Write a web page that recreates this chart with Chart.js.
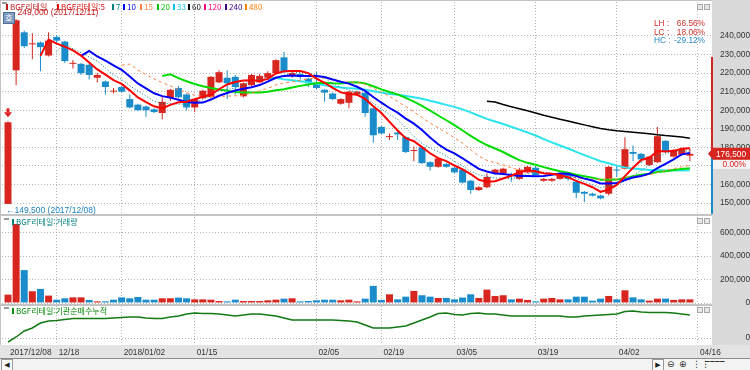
<!DOCTYPE html>
<html lang="ko">
<head>
<meta charset="UTF-8">
<title>BGF리테일 일봉</title>
<script src="https://cdn.jsdelivr.net/npm/chart.js"></script>
<style>
  body { margin: 0; }
  #wrap { position: relative; width: 750px; height: 370px; overflow: hidden; background: #c4c4c4; }
  .pane { position: absolute; left: 1px; width: 711px; background: #fff; }
  #pPrice { top: 1px; height: 213px; }
  #pVol { top: 216px; height: 88px; }
  #pInst { top: 306px; height: 39px; }
  #axisStrip { position: absolute; left: 712px; top: 0; width: 38px; height: 345px; background: #dadada; }
  #xBand { position: absolute; left: 0; top: 345px; width: 750px; height: 13px; background: #e4e4e4; }
  #scroll { position: absolute; left: 0; top: 358px; width: 750px; height: 12px; background: #f4f4f4;
            border-top: 1px solid #8c8c8c; box-sizing: border-box; font: 9px 'DejaVu Sans', sans-serif; }
  .sbtn { position: absolute; top: 0; width: 10px; height: 10px; border: 1px solid #9a9a9a; background: #fafafa;
          color: #222; font-size: 7px; line-height: 10px; text-align: center; }
  .tool { position: absolute; top: 0; font-size: 9px; line-height: 11px; color: #333; }
  .icons { position: absolute; width: 13px; height: 5px; }
  .icons i { position: absolute; top: 0; width: 4px; height: 4px; border: 1px solid #a8a8a8; background: #e8e8e8; }
  #hoBtn { position: absolute; left: 3px; top: 12px; width: 10px; height: 10px; background: #7f9cc0; border: 1px solid #4d6d94;
           color: #fff; font: 8px 'Noto Sans CJK KR', sans-serif; line-height: 10px; text-align: center; }
  canvas { position: absolute; left: 0; }
</style>
</head>
<body>
<div id="wrap">
  <div id="axisStrip"></div>
  <div class="pane" id="pPrice"></div>
  <div class="pane" id="pVol"></div>
  <div class="pane" id="pInst"></div>
  <div id="xBand"></div>
  <div id="scroll">
    <div class="sbtn" style="left:1px">◀</div>
    <div class="sbtn" style="left:652px">▶</div>
    <div class="tool" style="left:667px">⊖</div>
    <div class="tool" style="left:679px">⊕</div>
    <div class="tool" style="left:692px">⋮⋮</div>
    <div class="tool" style="left:705px;top:-3px">⎯⎯⎯⎯</div>
  </div>

  <canvas id="cPrice" width="750" height="216" style="top:0"></canvas>
  <canvas id="cVol" width="750" height="96" style="top:214px"></canvas>
  <canvas id="cInst" width="750" height="56" style="top:304px"></canvas>

  <div class="icons" style="left:697px;top:4px"><i style="left:0"></i><i style="left:7px"></i></div>
  <div class="icons" style="left:697px;top:218px"><i style="left:0"></i><i style="left:7px"></i></div>
  <div class="icons" style="left:697px;top:307px"><i style="left:0"></i><i style="left:7px"></i></div>
  <div id="hoBtn">호</div>
</div>

<script>
// ---- 데이터 (일봉, 2017/12/08 ~ 2018/04/13) ----
const DATES = [
  '2017/12/08','2017/12/11','2017/12/12','2017/12/13','2017/12/14','2017/12/15','2017/12/18','2017/12/19','2017/12/20','2017/12/21',
  '2017/12/22','2017/12/26','2017/12/27','2017/12/28','2018/01/02','2018/01/03','2018/01/04','2018/01/05','2018/01/08','2018/01/09',
  '2018/01/10','2018/01/11','2018/01/12','2018/01/15','2018/01/16','2018/01/17','2018/01/18','2018/01/19','2018/01/22','2018/01/23',
  '2018/01/24','2018/01/25','2018/01/26','2018/01/29','2018/01/30','2018/01/31','2018/02/01','2018/02/02','2018/02/05','2018/02/06',
  '2018/02/07','2018/02/08','2018/02/09','2018/02/12','2018/02/13','2018/02/14','2018/02/19','2018/02/20','2018/02/21','2018/02/22',
  '2018/02/23','2018/02/26','2018/02/27','2018/02/28','2018/03/02','2018/03/05','2018/03/06','2018/03/07','2018/03/08','2018/03/09',
  '2018/03/12','2018/03/13','2018/03/14','2018/03/15','2018/03/16','2018/03/19','2018/03/20','2018/03/21','2018/03/22','2018/03/23',
  '2018/03/26','2018/03/27','2018/03/28','2018/03/29','2018/03/30','2018/04/02','2018/04/03','2018/04/04','2018/04/05','2018/04/06',
  '2018/04/09','2018/04/10','2018/04/11','2018/04/12','2018/04/13'
];

const OPEN = [
  149500,221500,242000,235500,236500,229500,239500,237000,225000,225000,
  224500,217500,215500,210000,212500,206000,203000,202000,200500,198500,
  206500,212000,208500,201500,206500,207000,215000,217500,218000,207500,
  213500,215000,217500,220000,228500,218500,219500,217000,214500,211000,
  209000,203500,204000,208500,209500,201000,191000,185500,188000,185500,
  178000,180000,172000,169500,171000,169000,168000,162000,157000,158500,
  166000,166000,165500,163000,166500,169000,162000,162000,163000,165500,
  161500,156000,155000,154000,155000,168000,168500,177500,176500,170500,
  172000,183500,175000,176000,175500
];
const HIGH = [
  194000,249000,243000,241500,237000,242000,240500,237500,227000,225500,
  225000,220000,216000,212000,213000,208500,203500,202500,201000,207000,
  211500,213000,209000,206500,211000,218500,221500,221500,219000,215000,
  219500,219500,221000,227500,231500,221000,220000,217500,220500,211500,
  209500,206500,210500,210500,210000,201500,191500,187500,188500,186000,
  180500,180500,172500,174500,171500,169500,168500,162500,159000,166000,
  168500,169000,166500,169000,170000,170000,163500,163500,165500,165500,
  162000,156500,155500,154500,170000,170000,185500,181000,177000,175500,
  191000,184000,179000,179500,179500
];
const LOW = [
  149500,213500,233500,227500,221000,229000,236000,225500,222500,219000,
  216500,215000,208500,209000,209500,201000,199500,196500,198500,195000,
  205000,206500,200000,199000,206000,206500,214500,206000,208500,207000,
  213000,214500,217000,219500,220000,217500,216500,212500,211500,204500,
  205500,203000,201000,208000,196500,182500,187000,184000,184000,177000,
  172500,171000,167500,169000,169000,166000,160500,155000,156500,158000,
  165500,165000,161500,162500,166000,164500,161500,161500,162500,162000,
  152500,150500,153500,152000,154000,164000,168000,172500,171500,170000,
  171500,177000,174500,175500,172500
];
const CLOSE = [
  193500,248500,234500,236000,234000,237500,237500,226500,225500,220000,
  219000,219000,212500,210500,210000,201500,200000,200000,199000,204500,
  211000,207000,201500,206000,210500,218000,220500,214500,212500,214500,
  219000,218500,220000,227000,220500,220000,218000,214500,212000,209500,
  206000,206000,210000,210000,198500,186500,187500,186000,187000,177500,
  178500,171500,169500,174000,169500,166500,161000,157000,158500,164000,
  168000,168500,164500,168000,169500,165000,163000,163000,165000,163000,
  155500,155000,154000,152500,169500,167500,179000,176500,173500,175000,
  186000,177500,178500,179000,176500
];
// 거래량 (주)
const VOLUME = [
  71000,673000,280000,100000,120000,63000,28000,40000,48000,48000,
  26000,14000,14000,28000,48000,40000,51000,28000,28000,40000,
  40000,46000,40000,31000,31000,28000,17000,14000,28000,17000,
  17000,17000,23000,28000,37000,40000,14000,17000,23000,28000,
  28000,23000,28000,14000,37000,146000,26000,74000,31000,54000,
  103000,66000,54000,43000,43000,31000,46000,74000,43000,114000,
  60000,66000,31000,37000,26000,14000,37000,43000,31000,31000,
  54000,54000,20000,37000,60000,31000,108000,48000,31000,20000,
  37000,37000,26000,31000,31000
];
// 거래량 막대 상승(r)/하락(b)
const VOL_DIR = 'rrbrbrbbrr' + 'brbbbbbbbr' + 'rbbrrrrbbr' + 'rrrrbrbbbb' + 'brrrbbbrbb' +
                'rbbrbbbbrr' + 'rrbrrbrrrb' + 'bbbbrbrbbr' + 'rbrrr';
// 기관 순매수 누적 (천주)
const INST_CUM = [
  -40,10,70,100,150,170,175,185,195,195,
  195,195,195,200,205,210,210,200,195,195,
  210,220,240,250,245,245,240,230,220,230,
  240,240,230,220,200,180,180,180,180,180,
  180,175,170,160,130,100,100,100,110,120,
  150,180,210,245,250,235,230,245,250,240,
  240,230,220,220,220,220,220,220,220,210,
  210,220,225,230,235,240,265,270,260,255,
  255,255,250,240,230
];

const MA_PERIODS = [5, 7, 10, 15, 20, 33, 60];
const TICK_IDX = [0, 6, 14, 23, 38, 46, 55, 65, 75, 85];
const TICK_LABELS = ['2017/12/08', '12/18', '2018/01/02', '01/15', '02/05', '02/19', '03/05', '03/19', '04/02', '04/16'];
const PRICE_TICKS = [150000, 160000, 170000, 180000, 190000, 200000, 210000, 220000, 230000, 240000];
const VOL_TICKS = [0, 200000, 400000, 600000];
const INST_TICKS = [0];
const RANGE_TOP = 228700;
const CHANGE_TEXT = '0.00%';

// ---- 스타일 ----
const RED = '#d6261f';
const BLUE = '#1b8ccb';
const GRID = '#b4b4b4';
const NUM_FONT = "'Liberation Sans', Arial, sans-serif";
const KR_FONT = "'Noto Sans CJK KR', sans-serif";
const X_MIN = -0.739, X_MAX = 86.726;

const MA_STYLE = {
  5:  { color: '#ff0000', width: 2,   dash: [],     order: 0 },
  7:  { color: '#008080', width: 1,   dash: [1, 2], order: 2 },
  10: { color: '#0000ff', width: 2,   dash: [],     order: 1 },
  15: { color: '#ff8040', width: 1,   dash: [3, 3], order: 3 },
  20: { color: '#00dc00', width: 2,   dash: [],     order: 4 },
  33: { color: '#2ae4f0', width: 2,   dash: [],     order: 5 },
  60: { color: '#000000', width: 1.5, dash: [],     order: 6 }
};
const LEGEND = [
  ['BGF리테일', '#c01818', 6], ['BGF리테일:5', '#e01010', 57], ['7', '#008080', 112], ['10', '#0000ff', 123],
  ['15', '#ff8040', 140], ['20', '#00c000', 157], ['33', '#00c8f0', 173], ['60', '#000000', 188],
  ['120', '#ff0080', 204], ['240', '#400080', 225], ['480', '#ff8000', 245]
];

Chart.defaults.font.family = NUM_FONT;
Chart.defaults.font.size = 8.3;
Chart.defaults.color = '#333';
Chart.defaults.animation = false;
Chart.defaults.plugins.legend.display = false;
Chart.defaults.plugins.tooltip.enabled = false;

const fmt = v => v.toLocaleString('en-US');
const isUp = i => CLOSE[i] >= OPEN[i];

function movingAverage(period) {
  const pts = [];
  for (let i = period - 1; i < CLOSE.length; i++) {
    let s = 0;
    for (let k = i - period + 1; k <= i; k++) s += CLOSE[k];
    pts.push({ x: i, y: s / period });
  }
  return pts;
}

function xAxis(showLabels) {
  return {
    type: 'linear', min: X_MIN, max: X_MAX, offset: false,
    afterBuildTicks: s => { s.ticks = TICK_IDX.map(v => ({ value: v })); },
    afterFit: s => { s.height = showLabels ? 15 : 0; s.paddingLeft = 0; s.paddingRight = 0; },
    grid: { offset: false, drawTicks: false, color: c => (c.tick && c.tick.value === 0) ? 'rgba(0,0,0,0)' : GRID },
    border: { display: false, dash: [1, 2] },
    ticks: {
      display: showLabels, autoSkip: false, maxRotation: 0, align: 'start', labelOffset: 2, padding: 3,
      color: '#333', callback: (v, i) => TICK_LABELS[i]
    }
  };
}

function yAxis(min, max, ticks, pad) {
  return {
    position: 'right', min, max,
    afterBuildTicks: s => { s.ticks = ticks.map(v => ({ value: v })); },
    afterFit: s => { s.width = 38; s.paddingTop = 0; s.paddingBottom = 0; },
    grid: { drawTicks: false, color: GRID },
    border: { display: false, dash: [1, 2] },
    ticks: { crossAlign: 'far', padding: pad, color: '#333', callback: v => fmt(v) }
  };
}

function drawLegendLabel(ctx, x, y, text, color) {
  ctx.fillStyle = '#9a9a9a';
  ctx.fillRect(x - 8, y - 4, 5, 2);
  ctx.fillStyle = color;
  ctx.fillRect(x, y - 3, 2, 6);
  ctx.font = '8px ' + KR_FONT;
  ctx.textBaseline = 'middle';
  ctx.textAlign = 'left';
  ctx.fillText(text, x + 4, y);
}

// 가격 차트 위의 표시들
const priceOverlay = {
  id: 'priceOverlay',
  afterDraw(chart) {
    const { ctx, chartArea: area, scales: { x, y } } = chart;
    const last = CLOSE[CLOSE.length - 1];
    const hi = Math.max(...HIGH), lo = Math.min(...LOW);
    const hiIdx = HIGH.indexOf(hi), loIdx = LOW.indexOf(lo);
    const yLast = y.getPixelForValue(last);
    ctx.save();

    // 축 가장자리의 범위 막대
    ctx.fillStyle = RED;
    ctx.fillRect(area.right - 1, y.getPixelForValue(RANGE_TOP), 2, yLast - y.getPixelForValue(RANGE_TOP));
    ctx.fillStyle = BLUE;
    ctx.fillRect(area.right - 1, yLast, 2, area.bottom - yLast);

    // 범례
    ctx.fillStyle = '#9a9a9a';
    ctx.fillRect(2, 2, 5, 2);
    ctx.font = '8px ' + KR_FONT;
    ctx.textBaseline = 'middle';
    LEGEND.forEach(([t, c, lx]) => {
      ctx.fillStyle = c;
      ctx.fillRect(lx, 4, 2, 6);
      ctx.fillText(t, lx + 4, 7);
    });

    // 최고가 / 최저가
    ctx.font = '8.5px ' + NUM_FONT;
    ctx.fillStyle = '#c01818';
    ctx.fillText('←' + fmt(hi) + ' (' + DATES[hiIdx] + ')', x.getPixelForValue(hiIdx) - 7, y.getPixelForValue(hi) - 7);
    ctx.fillStyle = '#1b7fc0';
    ctx.fillText('←' + fmt(lo) + ' (' + DATES[loIdx] + ')', x.getPixelForValue(loIdx) - 2, y.getPixelForValue(lo) + 7);

    // 첫 봉 위의 화살표
    const ax = x.getPixelForValue(0), ay = y.getPixelForValue(HIGH[0]) - 4;
    ctx.fillStyle = '#e02020';
    ctx.fillRect(ax - 1.5, ay - 9, 3, 4);
    ctx.beginPath();
    ctx.moveTo(ax - 4, ay - 5); ctx.lineTo(ax + 4, ay - 5); ctx.lineTo(ax, ay); ctx.closePath();
    ctx.fill();

    // LH / LC / HC
    const rows = [
      ['LH', hi / lo - 1, '#c8302a'],
      ['LC', last / lo - 1, '#c8302a'],
      ['HC', last / hi - 1, '#2a86c0']
    ];
    ctx.font = '8.3px ' + NUM_FONT;
    rows.forEach(([k, v, c], i) => {
      const ry = 24 + i * 8.5;
      ctx.fillStyle = c;
      ctx.textAlign = 'left';
      ctx.fillText(k + ' :', 654, ry);
      ctx.textAlign = 'right';
      ctx.fillText((v * 100).toFixed(2) + '%', 705, ry);
    });

    // 현재가 표시
    const bx = area.right + 1;
    ctx.fillStyle = '#f4f4f4';
    ctx.fillRect(bx, yLast + 6, chart.width - bx, 9);
    ctx.fillStyle = RED;
    ctx.beginPath();
    ctx.moveTo(area.right - 4, yLast);
    ctx.lineTo(bx, yLast - 6); ctx.lineTo(chart.width, yLast - 6);
    ctx.lineTo(chart.width, yLast + 6); ctx.lineTo(bx, yLast + 6);
    ctx.closePath();
    ctx.fill();
    ctx.fillStyle = '#fff';
    ctx.textAlign = 'right';
    ctx.fillText(fmt(last), 746, yLast + 0.5);
    ctx.fillStyle = '#e02020';
    ctx.fillText(CHANGE_TEXT, 746, yLast + 11);
    ctx.restore();
  }
};

const legendOverlay = (text, color) => ({
  id: 'legendOverlay',
  afterDraw(chart) {
    const { ctx, chartArea: area } = chart;
    ctx.save();
    drawLegendLabel(ctx, 12, area.top + 5, text, color);
    ctx.restore();
  }
});

// ---- 가격 차트 ----
const maSets = MA_PERIODS.map(p => ({
  type: 'line',
  data: movingAverage(p),
  borderColor: MA_STYLE[p].color,
  borderWidth: MA_STYLE[p].width,
  borderDash: MA_STYLE[p].dash,
  pointRadius: 0,
  tension: 0,
  order: MA_STYLE[p].order
}));

new Chart(document.getElementById('cPrice'), {
  type: 'bar',
  data: {
    datasets: [
      ...maSets,
      {
        data: OPEN.map((o, i) => ({ x: i, y: [o, CLOSE[i]] })),
        backgroundColor: c => isUp(c.dataIndex) ? RED : BLUE,
        barThickness: 7, minBarLength: 1, grouped: false, inflateAmount: 0, order: 10
      },
      {
        data: LOW.map((l, i) => ({ x: i, y: [l, HIGH[i]] })),
        backgroundColor: c => isUp(c.dataIndex) ? RED : BLUE,
        barThickness: 1, grouped: false, inflateAmount: 0, order: 11
      }
    ]
  },
  options: {
    responsive: false, devicePixelRatio: 1,
    layout: { autoPadding: false, padding: { left: 2, right: 0, top: 2, bottom: 2 } },
    scales: { x: xAxis(false), y: yAxis(144072, 258323, PRICE_TICKS, 4) }
  },
  plugins: [priceOverlay]
});

// ---- 거래량 차트 ----
new Chart(document.getElementById('cVol'), {
  type: 'bar',
  data: {
    datasets: [{
      data: VOLUME.map((v, i) => ({ x: i, y: v })),
      backgroundColor: c => VOL_DIR[c.dataIndex] === 'r' ? RED : BLUE,
      barThickness: 7, grouped: false, inflateAmount: 0
    }]
  },
  options: {
    responsive: false, devicePixelRatio: 1,
    layout: { autoPadding: false, padding: { left: 2, right: 0, top: 3, bottom: 7 } },
    scales: { x: xAxis(false), y: yAxis(0, 731915, VOL_TICKS, 4) }
  },
  plugins: [legendOverlay('BGF리테일:거래량', '#00807f')]
});

// ---- 기관 순매수 누적 ----
new Chart(document.getElementById('cInst'), {
  type: 'line',
  data: {
    datasets: [{
      data: INST_CUM.map((v, i) => ({ x: i, y: v })),
      borderColor: '#137a13', borderWidth: 1.5, pointRadius: 0, tension: 0
    }]
  },
  options: {
    responsive: false, devicePixelRatio: 1,
    layout: { autoPadding: false, padding: { left: 2, right: 0, top: 2, bottom: 0 } },
    scales: { x: xAxis(true), y: yAxis(-70, 320, INST_TICKS, 29) }
  },
  plugins: [legendOverlay('BGF리테일:기관순매수누적', '#0a8a0a')]
});
</script>
</body>
</html>
